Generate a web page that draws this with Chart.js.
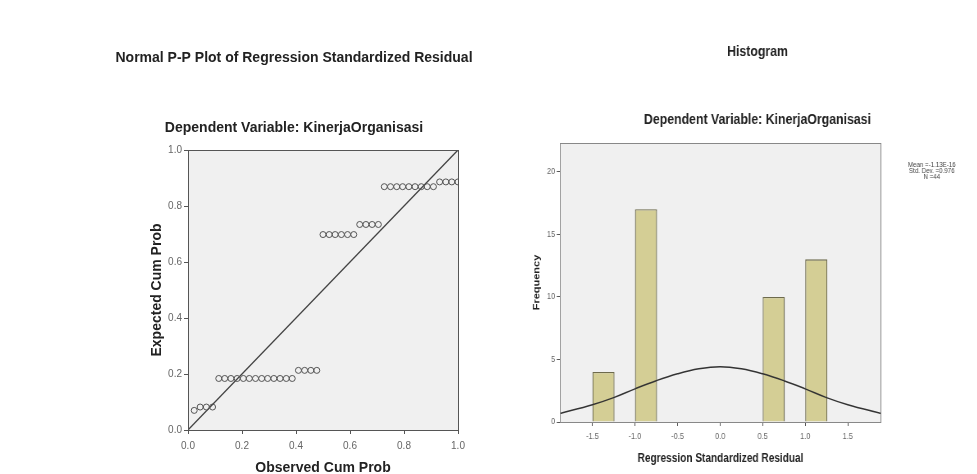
<!DOCTYPE html>
<html>
<head>
<meta charset="utf-8">
<script src="https://cdn.jsdelivr.net/npm/chart.js@4.4.1/dist/chart.umd.min.js"></script>
<style>
  html, body { margin: 0; background: #fff; width: 977px; height: 474px; overflow: hidden; }
  body { position: relative; }
  #ppChart { position: absolute; left: 100px; top: 40px; }
  /* the histogram in the picture is squeezed sideways, so the canvas is too */
  #histChart { position: absolute; left: 500px; top: 30px; transform: scaleX(0.82); transform-origin: 0 0; }
</style>
</head>
<body>
<canvas id="ppChart" width="388" height="434"></canvas>
<canvas id="histChart" width="628" height="444"></canvas>
<script>
// P-P plot values
var ppObserved = [0.023, 0.045, 0.068, 0.091,
  0.114, 0.136, 0.159, 0.182, 0.205, 0.227, 0.250, 0.273, 0.295, 0.318, 0.341, 0.364, 0.386,
  0.409, 0.432, 0.455, 0.477,
  0.500, 0.523, 0.545, 0.568, 0.591, 0.614,
  0.636, 0.659, 0.682, 0.705,
  0.727, 0.750, 0.773, 0.795, 0.818, 0.841, 0.864, 0.886, 0.909,
  0.932, 0.955, 0.977, 1.000];
var ppExpected = [0.070, 0.082, 0.082, 0.082,
  0.184, 0.184, 0.184, 0.184, 0.184, 0.184, 0.184, 0.184, 0.184, 0.184, 0.184, 0.184, 0.184,
  0.213, 0.213, 0.213, 0.213,
  0.698, 0.698, 0.698, 0.698, 0.698, 0.698,
  0.734, 0.734, 0.734, 0.734,
  0.869, 0.869, 0.869, 0.869, 0.869, 0.869, 0.869, 0.869, 0.869,
  0.886, 0.886, 0.886, 0.886];
var refLineX = [0, 1];
var refLineY = [0, 1];
var ppTicks = [0, 0.2, 0.4, 0.6, 0.8, 1.0];

// histogram values
var binCenters = [-1.37, -0.87, 0.63, 1.13];
var binCounts = [4, 17, 10, 13];
var curveX = [-1.88, -1.5, -1.25, -1.0, -0.75, -0.5, -0.25, 0, 0.25, 0.5, 0.75, 1.0, 1.25, 1.5, 1.89];
var curveY = [0.68, 1.38, 1.95, 2.65, 3.3, 3.85, 4.25, 4.42, 4.25, 3.85, 3.3, 2.65, 1.95, 1.38, 0.68];
var histXTicks = [-1.5, -1.0, -0.5, 0.0, 0.5, 1.0, 1.5];
var histYTicks = [0, 5, 10, 15, 20];
var statsLines = ['Mean =-1.13E-16', 'Std. Dev. =0.976', 'N =44'];

var sans = '"Liberation Sans", Arial, sans-serif';

function toXY(xs, ys) {
  return xs.map(function(x, i) { return { x: x, y: ys[i] }; });
}

// grey plot background and frame round the chart area
var plotFrame = {
  id: 'plotFrame',
  beforeDraw: function(chart, args, opts) {
    var a = chart.chartArea, ctx = chart.ctx;
    ctx.save();
    ctx.fillStyle = opts.fill;
    ctx.fillRect(a.left, a.top, a.right - a.left, a.bottom - a.top);
    ctx.restore();
  },
  afterDraw: function(chart, args, opts) {
    var a = chart.chartArea, ctx = chart.ctx;
    ctx.save();
    ctx.strokeStyle = opts.stroke;
    ctx.lineWidth = 1;
    ctx.strokeRect(Math.round(a.left) + 0.5, Math.round(a.top) + 0.5,
      Math.round(a.right - a.left), Math.round(a.bottom - a.top));
    ctx.restore();
  }
};

var statsText = {
  id: 'statsText',
  afterDraw: function(chart, args, opts) {
    if (!opts.lines) return;
    var a = chart.chartArea, ctx = chart.ctx;
    ctx.save();
    ctx.font = '7.5px ' + sans;
    ctx.fillStyle = '#444';
    ctx.textAlign = 'center';
    ctx.textBaseline = 'middle';
    opts.lines.forEach(function(t, i) {
      ctx.fillText(t, a.right + 62, a.top + 22 + i * 5.8);
    });
    ctx.restore();
  }
};

function fixWidth(w) {
  return function(s) { s.width = w; s.paddingTop = 0; s.paddingBottom = 0; };
}
function fixHeight(h, padRight) {
  return function(s) { s.height = h; s.paddingLeft = 0; s.paddingRight = padRight; };
}
function useTicks(list) {
  return function(s) { s.ticks = list.map(function(v) { return { value: v }; }); };
}

new Chart(document.getElementById('ppChart').getContext('2d'), {
  type: 'scatter',
  data: {
    datasets: [{
      data: toXY(ppObserved, ppExpected),
      pointStyle: 'circle',
      pointRadius: 3,
      backgroundColor: 'rgba(0,0,0,0)',
      borderColor: '#555',
      borderWidth: 1
    }, {
      type: 'line',
      data: toXY(refLineX, refLineY),
      borderColor: '#444',
      borderWidth: 1.3,
      pointRadius: 0,
      fill: false
    }]
  },
  options: {
    responsive: false,
    animation: false,
    layout: { padding: 0 },
    plugins: {
      legend: { display: false },
      tooltip: { enabled: false },
      title: {
        display: true,
        text: 'Normal P-P Plot of Regression Standardized Residual',
        color: '#222',
        font: { family: sans, size: 14, weight: 'bold' },
        padding: { top: 9.6, bottom: 53.2 }
      },
      subtitle: {
        display: true,
        text: 'Dependent Variable: KinerjaOrganisasi',
        color: '#222',
        font: { family: sans, size: 14, weight: 'bold' },
        padding: { top: 0, bottom: 13.6 }
      },
      plotFrame: { fill: '#f0f0f0', stroke: '#555' }
    },
    scales: {
      x: {
        type: 'linear', min: 0, max: 1,
        afterFit: fixHeight(44, 30),
        afterBuildTicks: useTicks(ppTicks),
        grid: { drawOnChartArea: false, tickLength: 4, color: '#555' },
        border: { color: '#555' },
        ticks: { padding: 6, color: '#666', font: { family: sans, size: 10 },
          callback: function(v) { return v.toFixed(1); } },
        title: { display: true, text: 'Observed Cum Prob', color: '#222',
          font: { family: sans, size: 14, weight: 'bold' }, padding: { top: 0, bottom: -3 } }
      },
      y: {
        type: 'linear', min: 0, max: 1,
        afterFit: fixWidth(88),
        afterBuildTicks: useTicks(ppTicks),
        grid: { drawOnChartArea: false, tickLength: 4, color: '#555' },
        border: { color: '#555' },
        ticks: { padding: 2, color: '#666', font: { family: sans, size: 10 },
          callback: function(v) { return v.toFixed(1); } },
        title: { display: true, text: 'Expected Cum Prob', color: '#222',
          font: { family: sans, size: 14, weight: 'bold' }, padding: { top: 48.6, bottom: 0 } }
      }
    }
  },
  plugins: [plotFrame]
});

new Chart(document.getElementById('histChart').getContext('2d'), {
  type: 'bar',
  data: {
    datasets: [{
      data: toXY(binCenters, binCounts),
      backgroundColor: '#d4ce95',
      borderColor: '#6d6a4c',
      borderWidth: 1.3,
      barPercentage: 0.52,
      categoryPercentage: 1.0,
      order: 2
    }, {
      type: 'line',
      data: toXY(curveX, curveY),
      borderColor: '#333',
      borderWidth: 1.5,
      pointRadius: 0,
      tension: 0.4,
      fill: false,
      order: 1
    }]
  },
  options: {
    responsive: false,
    animation: false,
    layout: { padding: 0 },
    plugins: {
      legend: { display: false },
      tooltip: { enabled: false },
      title: {
        display: true,
        text: 'Histogram',
        color: '#222',
        font: { family: sans, size: 15, weight: 'bold' },
        padding: { top: 13, bottom: 50 }
      },
      subtitle: {
        display: true,
        text: 'Dependent Variable: KinerjaOrganisasi',
        color: '#222',
        font: { family: sans, size: 15, weight: 'bold' },
        padding: { top: 0, bottom: 14 }
      },
      plotFrame: { fill: '#f0f0f0', stroke: '#888' },
      statsText: { lines: statsLines }
    },
    scales: {
      x: {
        type: 'linear', min: -1.88, max: 1.89,
        offset: false,
        afterFit: fixHeight(52, 163.4),
        afterBuildTicks: useTicks(histXTicks),
        grid: { drawOnChartArea: false, tickLength: 4, color: '#555', offset: false },
        border: { color: '#555' },
        ticks: { padding: 5, color: '#666', font: { family: sans, size: 9 },
          callback: function(v) { return v.toFixed(1); } },
        title: { display: true, text: 'Regression Standardized Residual', color: '#222',
          font: { family: sans, size: 12.3, weight: 'bold' }, padding: { top: 0, bottom: 8.5 } }
      },
      y: {
        type: 'linear', min: 0, max: 22.3,
        afterFit: fixWidth(73.2),
        afterBuildTicks: useTicks(histYTicks),
        grid: { drawOnChartArea: false, tickLength: 4, color: '#555' },
        border: { color: '#555' },
        ticks: { padding: 2, color: '#666', font: { family: sans, size: 9 } },
        title: { display: true, text: 'Frequency', color: '#222',
          font: { family: sans, size: 11, weight: 'bold' }, padding: { top: 38.5, bottom: 0 } }
      }
    }
  },
  plugins: [plotFrame, statsText]
});
</script>
</body>
</html>
